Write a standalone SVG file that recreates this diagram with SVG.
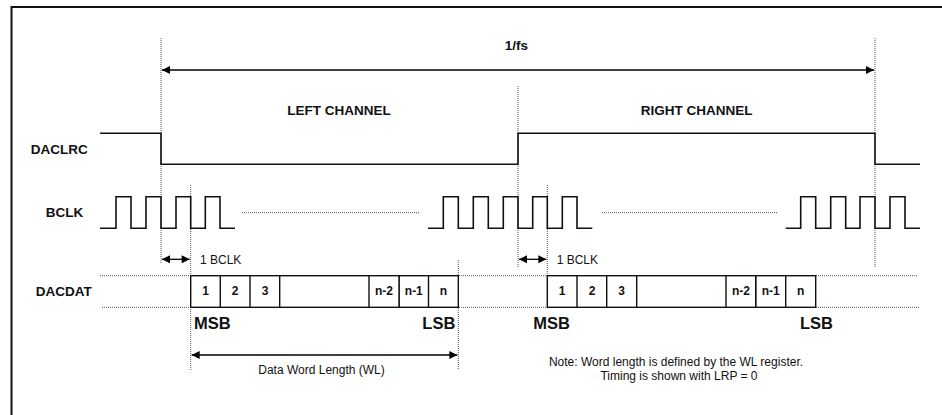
<svg xmlns="http://www.w3.org/2000/svg" width="942" height="415" viewBox="0 0 942 415">
<defs>
<marker id="ah" viewBox="0 0 10 10" refX="10" refY="5" markerWidth="10" markerHeight="8" markerUnits="userSpaceOnUse" orient="auto-start-reverse">
<path d="M0,0 L10,5 L0,10 z" fill="#000"/>
</marker>
<style>
.sig{fill:none;stroke:#111;stroke-width:1.6}
.dot{fill:none;stroke:#555;stroke-width:1;stroke-dasharray:1,1}
.box{fill:#fff;stroke:#111;stroke-width:1.4}
.arr{fill:none;stroke:#000;stroke-width:1.3}
.lbl{font-family:"Liberation Sans",Arial,sans-serif;font-weight:bold;font-size:13.5px;fill:#111}
.cell{font-family:"Liberation Sans",Arial,sans-serif;font-weight:bold;font-size:12px;fill:#111;text-anchor:middle}
.big{font-family:"Liberation Sans",Arial,sans-serif;font-weight:bold;font-size:16.5px;fill:#111}
.txt{font-family:"Liberation Sans",Arial,sans-serif;font-size:12px;fill:#111}
</style>
</defs>
<rect width="942" height="415" fill="#fff"/>
<g id="frame">
<path d="M11.5,415 V7 H942" fill="none" stroke="#111" stroke-width="2"/>
</g>
<g id="guides">
<path class="dot" d="M161,38 V263"/>
<path class="dot" d="M875,38 V267"/>
<path class="dot" d="M518,86 V267"/>
<path class="dot" d="M190.7,185 V370"/>
<path class="dot" d="M547.3,185 V276"/>
<path class="dot" d="M458.3,260 V370"/>
<path class="dot" d="M242,212.7 H420"/>
<path class="dot" d="M602,212.7 H778"/>
<path class="dot" d="M100,275.7 H190"/>
<path class="dot" d="M102,307.3 H190"/>
<path class="dot" d="M459,275.7 H547"/>
<path class="dot" d="M459,307.3 H547"/>
<path class="dot" d="M816,275.7 H918"/>
<path class="dot" d="M816,307.3 H920"/>
</g>
<g id="labels">
<text class="lbl" x="30.7" y="153.5">DACLRC</text>
<text class="lbl" x="45.7" y="217">BCLK</text>
<text class="lbl" x="35.7" y="296">DACDAT</text>
<text class="lbl" x="516.5" y="50" text-anchor="middle">1/fs</text>
<text class="lbl" x="287.3" y="115">LEFT CHANNEL</text>
<text class="lbl" x="640.7" y="115">RIGHT CHANNEL</text>
</g>
<g id="daclrc">
<path class="sig" d="M100,133.3 H161 V164.3 H518 V133.3 H875 V164.3 H920"/>
</g>
<g id="bclk">
<path class="sig" d="M100,228.3 H116 V196.7 H131 V228.3 H146 V196.7 H161 V228.3 H176 V196.7 H190.7 V228.3 H205.3 V196.7 H220 V228.3 H235"/>
<path class="sig" d="M428,228.3 H443.3 V196.7 H458.3 V228.3 H473.3 V196.7 H488.3 V228.3 H503.3 V196.7 H518 V228.3 H532.7 V196.7 H547.3 V228.3 H562.3 V196.7 H577 V228.3 H592.3"/>
<path class="sig" d="M785.7,228.3 H800.7 V196.7 H815.7 V228.3 H830.7 V196.7 H845.7 V228.3 H860 V196.7 H875 V228.3 H890 V196.7 H905 V228.3 H920"/>
</g>
<g id="dacdat-left">
<rect class="box" x="190.7" y="275.7" width="267.6" height="31.6"/>
<path class="box" d="M220.3,275.7 V307.3 M250,275.7 V307.3 M279.7,275.7 V307.3 M399,275.7 V307.3 M428.5,275.7 V307.3"/>
<rect class="box" x="369" y="275.7" width="30" height="31.6" stroke-width="1.8"/>
<text class="cell" x="205.5" y="295">1</text>
<text class="cell" x="235" y="295">2</text>
<text class="cell" x="265" y="295">3</text>
<text class="cell" x="384" y="295">n-2</text>
<text class="cell" x="413.8" y="295">n-1</text>
<text class="cell" x="443.4" y="295">n</text>
</g>
<g id="dacdat-right">
<rect class="box" x="547.3" y="275.7" width="268.4" height="31.6"/>
<path class="box" d="M577,275.7 V307.3 M606.7,275.7 V307.3 M636.7,275.7 V307.3 M755.7,275.7 V307.3 M785.7,275.7 V307.3"/>
<rect class="box" x="726" y="275.7" width="29.7" height="31.6" stroke-width="1.8"/>
<text class="cell" x="562" y="295">1</text>
<text class="cell" x="592" y="295">2</text>
<text class="cell" x="621.7" y="295">3</text>
<text class="cell" x="741" y="295">n-2</text>
<text class="cell" x="770.7" y="295">n-1</text>
<text class="cell" x="800.7" y="295">n</text>
</g>
<g id="connectors">
<path class="arr" d="M162,70 H874" marker-start="url(#ah)" marker-end="url(#ah)"/>
<path class="arr" d="M162,259.3 H189.7" marker-start="url(#ah)" marker-end="url(#ah)"/>
<path class="arr" d="M519,259.3 H546.3" marker-start="url(#ah)" marker-end="url(#ah)"/>
<path class="arr" d="M191.7,355 H457.3" marker-start="url(#ah)" marker-end="url(#ah)"/>
</g>
<g id="annotations">
<text class="txt" x="200" y="263.5">1 BCLK</text>
<text class="txt" x="556.7" y="263.5">1 BCLK</text>
<text class="big" x="194" y="329">MSB</text>
<text class="big" x="422.3" y="329">LSB</text>
<text class="big" x="533.3" y="329">MSB</text>
<text class="big" x="800" y="329">LSB</text>
<text class="txt" x="321.5" y="374" text-anchor="middle">Data Word Length (WL)</text>
<text class="txt" x="676" y="366" text-anchor="middle">Note: Word length is defined by the WL register.</text>
<text class="txt" x="679" y="379.5" text-anchor="middle">Timing is shown with LRP = 0</text>
</g>
</svg>
